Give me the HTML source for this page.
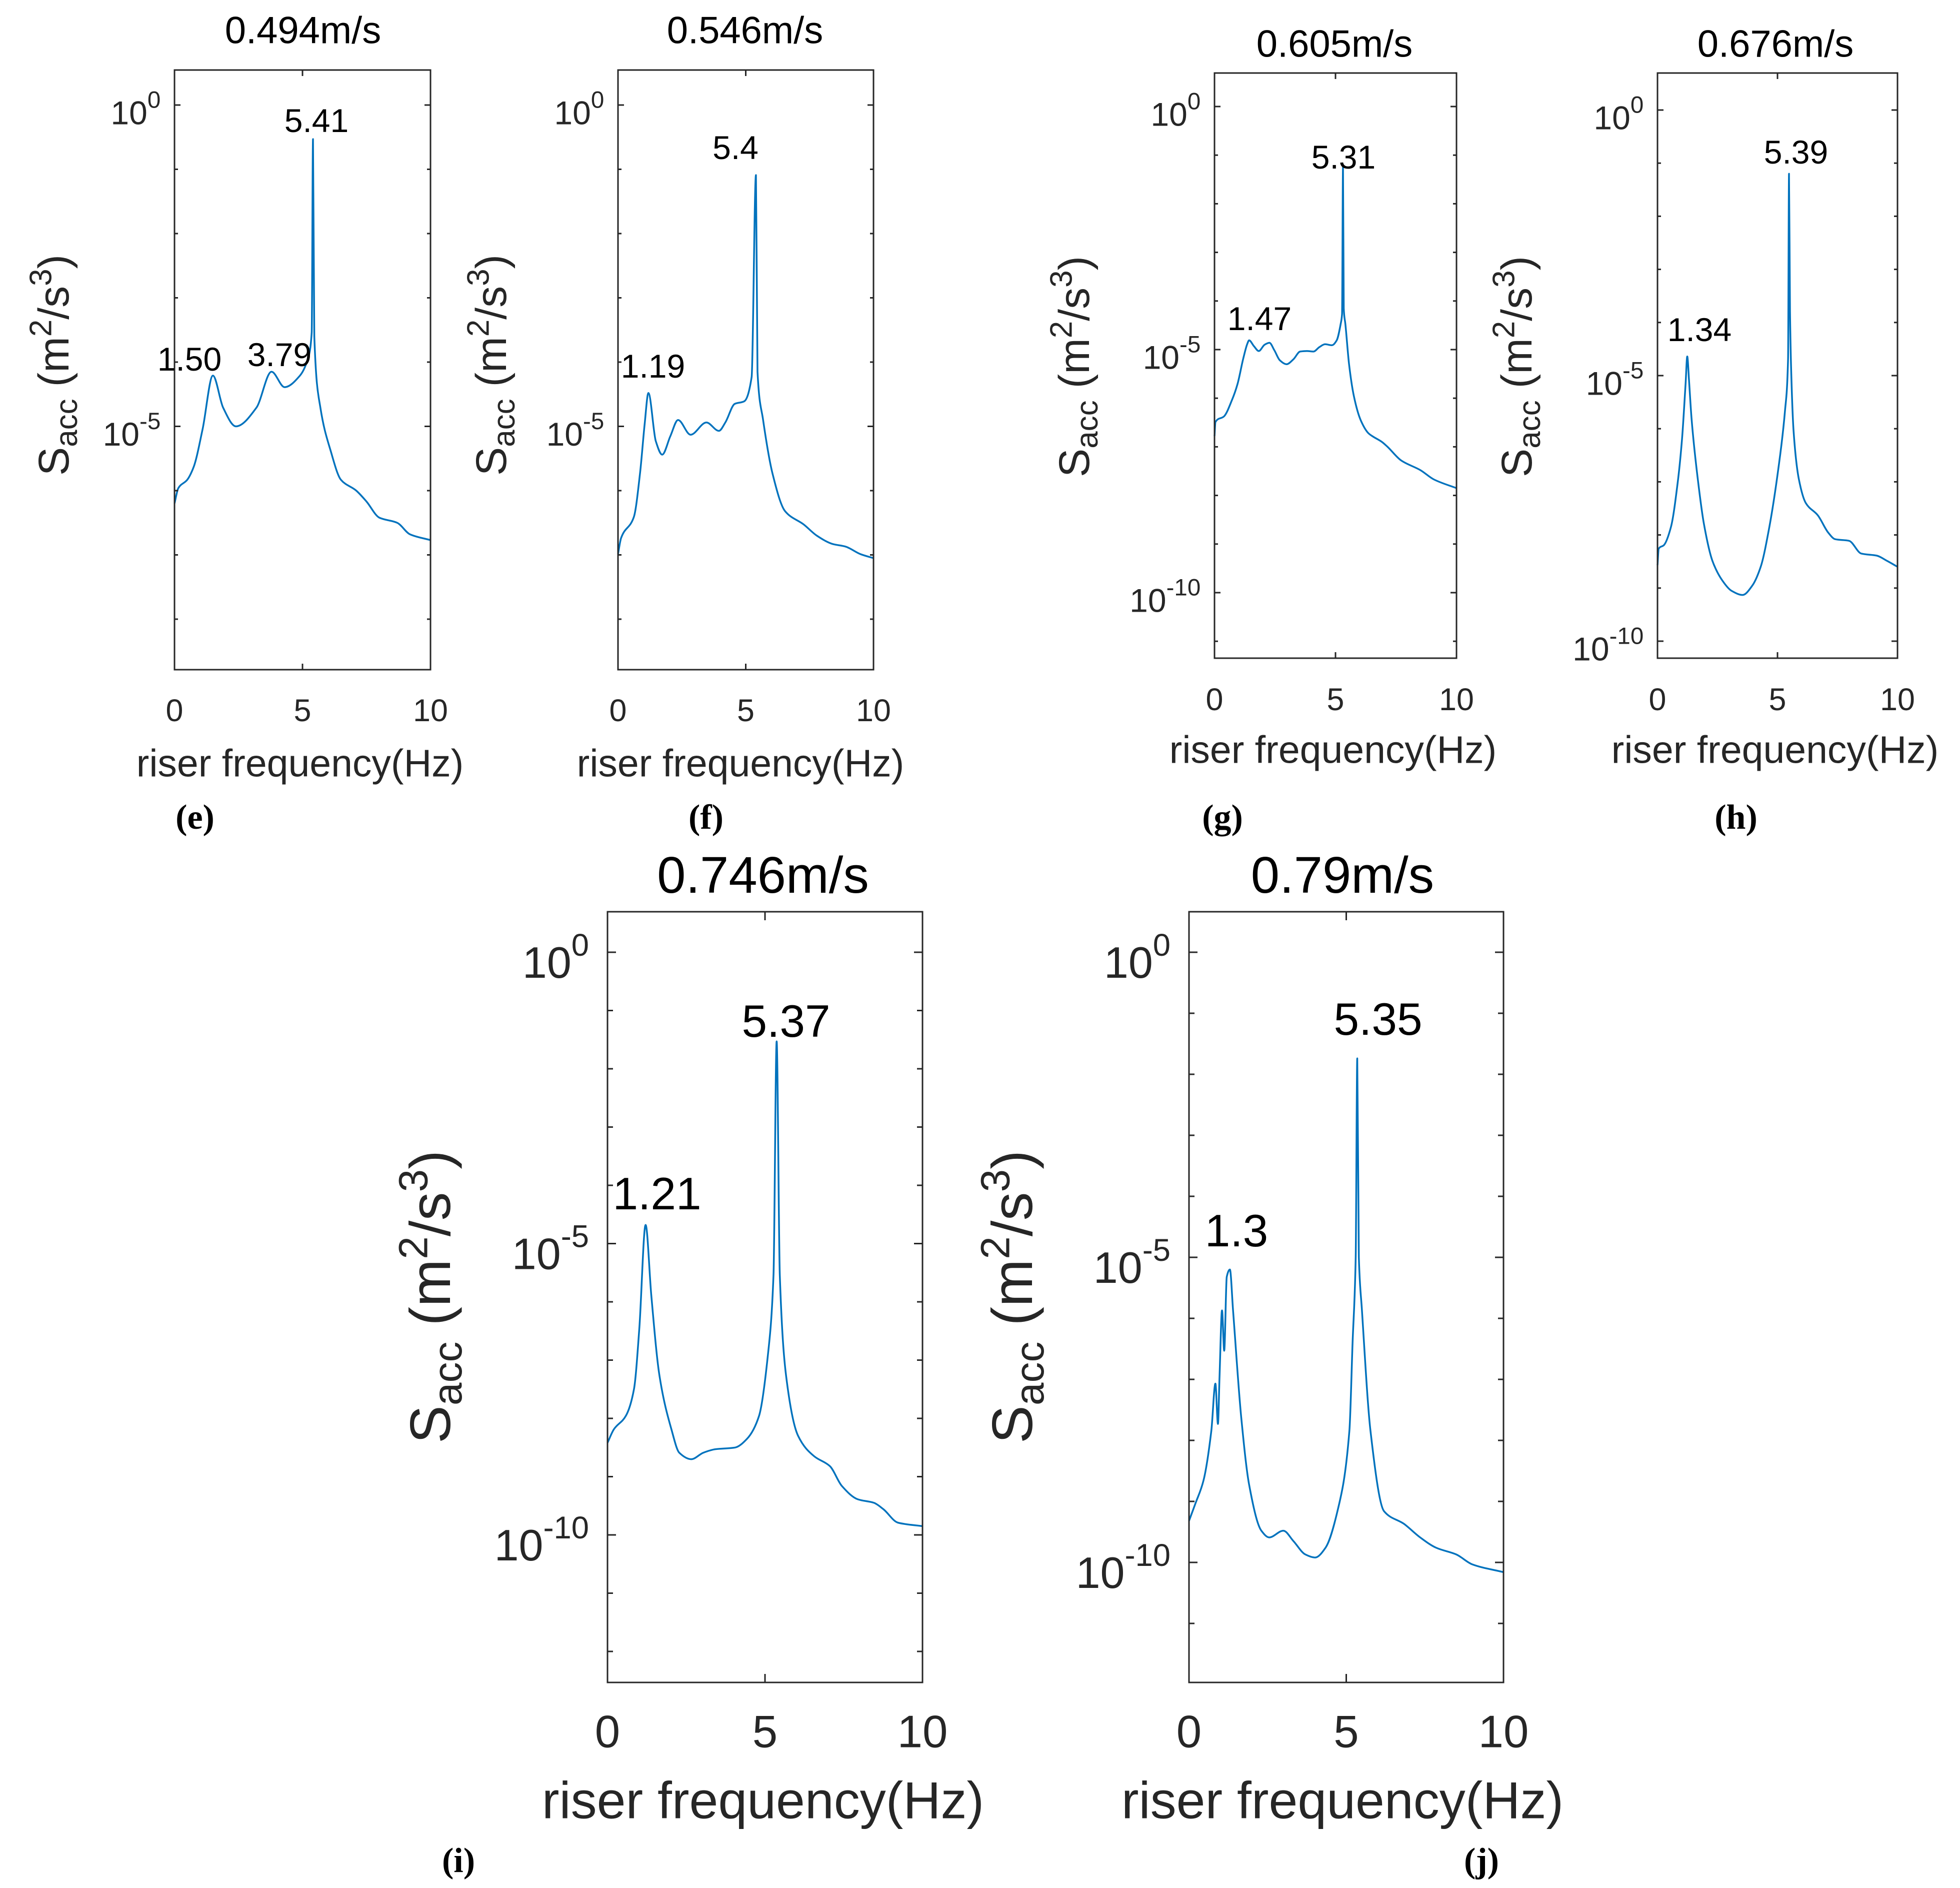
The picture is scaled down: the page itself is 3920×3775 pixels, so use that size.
<!DOCTYPE html>
<html><head><meta charset="utf-8">
<style>
html,body{margin:0;padding:0;background:#fff;}
svg{display:block;}
text{font-family:"Liberation Sans",Arial,sans-serif;fill:#000;}
.tick{fill:#262626;}
.letter{font-family:"Liberation Serif","Times New Roman",serif;font-weight:bold;}
</style></head>
<body>
<svg id="fig" xmlns="http://www.w3.org/2000/svg" width="3920" height="3775" viewBox="0 0 3920 3775">
<rect width="3920" height="3775" fill="#fff"/>
</svg>
<script>
// ---- data: frequency (Hz) and log10(Sacc) exponents ----
const eFreq=[0,0.15,0.5,0.75,1.1,1.5,1.9,2.4,3.2,3.79,4.3,4.9,5.2,5.36,5.41,5.46,5.7,6.1,6.5,7.1,7.5,8.0,8.7,9.2,10];
const eLog=[-6.2,-5.96,-5.83,-5.63,-5.04,-4.21,-4.71,-5.0,-4.71,-4.15,-4.39,-4.21,-3.96,-3.54,-0.53,-3.6,-4.71,-5.38,-5.83,-6.0,-6.17,-6.42,-6.5,-6.68,-6.77];
const fFreq=[0,0.12,0.62,0.86,1.04,1.19,1.48,1.73,2.05,2.35,2.84,3.46,3.95,4.2,4.57,4.94,5.23,5.4,5.46,5.68,6.05,6.54,7.28,7.78,8.4,8.9,9.5,10];
const fLog=[-6.99,-6.74,-6.41,-5.74,-4.98,-4.48,-5.23,-5.44,-5.15,-4.9,-5.13,-4.94,-5.07,-4.94,-4.65,-4.61,-4.23,-1.09,-4.15,-4.9,-5.74,-6.32,-6.53,-6.7,-6.83,-6.87,-6.99,-7.05];
const gFreq=[0,0.04,0.4,0.72,0.95,1.19,1.35,1.43,1.63,1.83,2.07,2.27,2.47,2.7,2.98,3.26,3.54,3.82,4.09,4.33,4.57,4.85,5.05,5.21,5.27,5.31,5.34,5.41,5.56,5.76,6.04,6.36,6.52,6.92,7.15,7.71,8.51,9.06,10];
const gLog=[-6.78,-6.49,-6.37,-6.04,-5.71,-5.18,-4.89,-4.81,-4.93,-5.03,-4.9,-4.86,-5.01,-5.22,-5.3,-5.2,-5.04,-5.03,-5.04,-4.95,-4.89,-4.91,-4.81,-4.48,-4.27,-1.25,-4.15,-4.48,-5.3,-5.96,-6.45,-6.72,-6.78,-6.9,-7.0,-7.28,-7.48,-7.67,-7.85];
const hFreq=[0,0.05,0.27,0.56,0.84,1.02,1.17,1.24,1.31,1.42,1.64,1.93,2.29,2.72,3.08,3.55,3.94,4.3,4.66,5.02,5.31,5.44,5.48,5.52,5.57,5.67,5.89,6.18,6.68,7.12,7.4,7.98,8.49,9.14,9.57,10];
const hLog=[-8.57,-8.26,-8.19,-7.85,-7.02,-6.2,-5.15,-4.64,-5.07,-5.82,-6.8,-7.78,-8.49,-8.87,-9.05,-9.13,-8.96,-8.6,-7.85,-6.8,-5.67,-4.7,-1.2,-3.79,-4.92,-6.05,-6.95,-7.4,-7.63,-7.96,-8.08,-8.11,-8.35,-8.39,-8.49,-8.6];
const iFreq=[0,0.2,0.58,0.84,1.01,1.21,1.39,1.65,2.03,2.28,2.66,3.04,3.42,4.05,4.43,4.81,5.09,5.27,5.37,5.47,5.67,6.05,6.56,7.06,7.44,7.95,8.46,8.76,9.22,10];
const iLog=[-8.42,-8.19,-7.96,-7.5,-6.46,-4.68,-5.89,-7.27,-8.19,-8.59,-8.7,-8.59,-8.53,-8.5,-8.35,-7.96,-6.92,-5.54,-1.53,-5.54,-7.27,-8.3,-8.65,-8.82,-9.16,-9.39,-9.45,-9.56,-9.79,-9.85];
const jFreq=[0,0.2,0.46,0.71,0.84,0.92,0.97,1.05,1.12,1.2,1.3,1.4,1.66,1.91,2.3,2.55,3.0,3.32,3.7,4.01,4.34,4.72,5.1,5.2,5.3,5.35,5.4,5.5,5.77,6.2,6.84,7.35,7.86,8.5,9.0,10];
const jLog=[-9.32,-9.04,-8.66,-7.84,-7.07,-7.73,-6.97,-5.87,-6.53,-5.32,-5.2,-5.87,-7.62,-8.72,-9.48,-9.59,-9.48,-9.65,-9.87,-9.92,-9.76,-9.16,-7.84,-6.41,-5.0,-1.74,-5.0,-5.87,-7.84,-9.16,-9.37,-9.59,-9.76,-9.87,-10.03,-10.16];
const xTicks=[0,5,10];
const yLabelTicks=[0,-5,-10];
const titles=["0.494m/s","0.546m/s","0.605m/s","0.676m/s","0.746m/s","0.79m/s"];
const letters=["(e)","(f)","(g)","(h)","(i)","(j)"];
const peakTextE=["1.50","3.79","5.41"], peakTextF=["1.19","5.4"], peakTextG=["1.47","5.31"], peakTextH=["1.34","5.39"], peakTextI=["1.21","5.37"], peakTextJ=["1.3","5.35"];

// ---- layout (pixels) ----
const S={fs:66,tfs:61,title:76,xl:77,yl:86,peak:66,major:12,minor:7,letter:70};
const B={fs:88,tfs:88,title:103,xl:104,yl:114,peak:91,major:17,minor:11,letter:70};
const panels=[
 {id:'e',x0:349,x1:861,y0:140,y1:1339,y10:210,dec:128.5,fr:eFreq,lg:eLog,pt:peakTextE,
  pxy:[[379,717],[559,708],[633,240]],title:[606,59],tickY:1420,xlab:[600,1525],ylab:[106,730],letter:[390,1633],st:S},
 {id:'f',x0:1236,x1:1747,y0:140,y1:1339,y10:210,dec:128.5,fr:fFreq,lg:fLog,pt:peakTextF,
  pxy:[[1306,731],[1471,294]],title:[1490,59],tickY:1420,xlab:[1481,1525],ylab:[981,730],letter:[1412,1633],st:S},
 {id:'g',x0:2429,x1:2913,y0:146,y1:1316,y10:213,dec:97.2,fr:gFreq,lg:gLog,pt:peakTextG,
  pxy:[[2519,636],[2687,313]],title:[2669,86],tickY:1398,xlab:[2666,1498],ylab:[2147,733],letter:[2445,1633],st:S},
 {id:'h',x0:3315,x1:3795,y0:146,y1:1316,y10:220,dec:106.2,fr:hFreq,lg:hLog,pt:peakTextH,
  pxy:[[3399,658],[3592,303]],title:[3551,86],tickY:1398,xlab:[3550,1498],ylab:[3032,733],letter:[3472,1633],st:S},
 {id:'i',x0:1215,x1:1845,y0:1823,y1:3364,y10:1904,dec:116.5,fr:iFreq,lg:iLog,pt:peakTextI,
  pxy:[[1314,2385],[1572,2040]],title:[1526,1748],tickY:3462,xlab:[1526,3598],ylab:[859,2593],letter:[917,3719],st:B},
 {id:'j',x0:2378,x1:3007,y0:1823,y1:3364,y10:1904,dec:122,fr:jFreq,lg:jLog,pt:peakTextJ,
  pxy:[[2473,2459],[2756,2036]],title:[2685,1748],tickY:3462,xlab:[2685,3598],ylab:[2023,2593],letter:[2963,3719],st:B}
];
const NS='http://www.w3.org/2000/svg';
const svg=document.getElementById('fig');
function mk(tag,attrs,parent){const e=document.createElementNS(NS,tag);for(const k in attrs)e.setAttribute(k,attrs[k]);(parent||svg).appendChild(e);return e;}

// monotone cubic (Fritsch-Carlson) path through screen points
function monotonePath(X,Y){
  const n=X.length;const dx=[],m=[],t=new Array(n);
  for(let i=0;i<n-1;i++){dx[i]=X[i+1]-X[i];m[i]=(Y[i+1]-Y[i])/dx[i];}
  t[0]=m[0];t[n-1]=m[n-2];
  for(let i=1;i<n-1;i++){
    if(m[i-1]*m[i]<=0)t[i]=0;
    else{const w1=2*dx[i]+dx[i-1],w2=dx[i]+2*dx[i-1];t[i]=(w1+w2)/(w1/m[i-1]+w2/m[i]);}
  }
  let d='M'+X[0].toFixed(1)+','+Y[0].toFixed(1);
  for(let i=0;i<n-1;i++){
    const h=dx[i]/3;
    d+='C'+(X[i]+h).toFixed(1)+','+(Y[i]+t[i]*h).toFixed(1)+' '+(X[i+1]-h).toFixed(1)+','+(Y[i+1]-t[i+1]*h).toFixed(1)+' '+X[i+1].toFixed(1)+','+Y[i+1].toFixed(1);
  }
  return d;
}

panels.forEach((p,idx)=>{
  const st=p.st;
  const g=mk('g',{});
  
  
  const xs=f=>p.x0+(f/10)*(p.x1-p.x0);
  const ys=l=>p.y10-l*p.dec;
  const topLog=(p.y10-p.y0)/p.dec, botLog=(p.y10-p.y1)/p.dec;
  const X=p.fr.map(xs), Y=p.lg.map(ys);
  const cp=mk('path',{d:monotonePath(X,Y),fill:'none',stroke:'#0072BD','stroke-width':3.5,'stroke-linejoin':'round'},g);
  
  
  const bx=mk('rect',{x:p.x0,y:p.y0,width:p.x1-p.x0,height:p.y1-p.y0,fill:'none',stroke:'#262626','stroke-width':3},g);
  
  
  for(let L=Math.ceil(botLog);L<=Math.floor(topLog);L++){
    const y=ys(L), len=(L%5===0)?st.major:st.minor;
    mk('line',{x1:p.x0,x2:p.x0+len,y1:y,y2:y,stroke:'#262626','stroke-width':3},g);
    mk('line',{x1:p.x1,x2:p.x1-len,y1:y,y2:y,stroke:'#262626','stroke-width':3},g);
  }
  yLabelTicks.forEach(L=>{
    if(L<botLog||L>topLog)return;
    const y=ys(L);
    const t=mk('text',{x:p.x0-st.fs*0.42,y:y+st.fs*0.22+st.fs*0.36,'text-anchor':'end','font-size':st.fs,class:'tick'},g);
    
    
    const a=mk('tspan',{},t);a.textContent='10';
    const b=mk('tspan',{dy:-st.fs*0.5,'font-size':st.fs*0.72},t);b.textContent=String(L);
  });
  xTicks.forEach(v=>{
    const x=xs(v);
    mk('line',{x1:x,x2:x,y1:p.y1,y2:p.y1-st.major,stroke:'#262626','stroke-width':3},g);
    mk('line',{x1:x,x2:x,y1:p.y0,y2:p.y0+st.major,stroke:'#262626','stroke-width':3},g);
    const t=mk('text',{x:x,y:p.tickY+st.tfs*0.36,'text-anchor':'middle','font-size':st.tfs*1.03,class:'tick'},g);
    
    
    t.textContent=String(v);
  });
  const tt=mk('text',{x:p.title[0],y:p.title[1]+st.title*0.36,'text-anchor':'middle','font-size':st.title},g);
  
  
  tt.textContent=titles[idx];
  const xl=mk('text',{x:p.xlab[0],y:p.xlab[1]+st.xl*0.36,'text-anchor':'middle','font-size':st.xl,class:'tick'},g);
  
  
  xl.textContent='riser frequency(Hz)';
  const f=st.yl;
  const yl=mk('text',{x:0,y:0,'text-anchor':'middle','font-size':f,class:'tick',
     transform:'translate('+p.ylab[0]+','+p.ylab[1]+') rotate(-90) translate(0,'+(f*0.36)+')'},g);
  
  
  const s1=mk('tspan',{},yl);s1.textContent='S';
  const s2=mk('tspan',{dy:f*0.2,'font-size':f*0.72},yl);s2.textContent='acc';
  const s3=mk('tspan',{dy:-f*0.2},yl);s3.textContent='\u00a0(m';
  const s4=mk('tspan',{dy:-f*0.4,'font-size':f*0.72},yl);s4.textContent='2';
  const s5=mk('tspan',{dy:f*0.4},yl);s5.textContent='/s';
  const s6=mk('tspan',{dy:-f*0.4,'font-size':f*0.72},yl);s6.textContent='3';
  const s7=mk('tspan',{dy:f*0.4},yl);s7.textContent=')';
  p.pt.forEach((txt,k)=>{
    const t=mk('text',{x:p.pxy[k][0],y:p.pxy[k][1]+st.peak*0.36,'text-anchor':'middle','font-size':st.peak},g);
    
    
    t.textContent=txt;
  });
  const lt=mk('text',{x:p.letter[0],y:p.letter[1]+st.letter*0.34,'text-anchor':'middle','font-size':st.letter,class:'letter'},g);
  
  
  lt.textContent=letters[idx];
});
</script>
</body></html>
